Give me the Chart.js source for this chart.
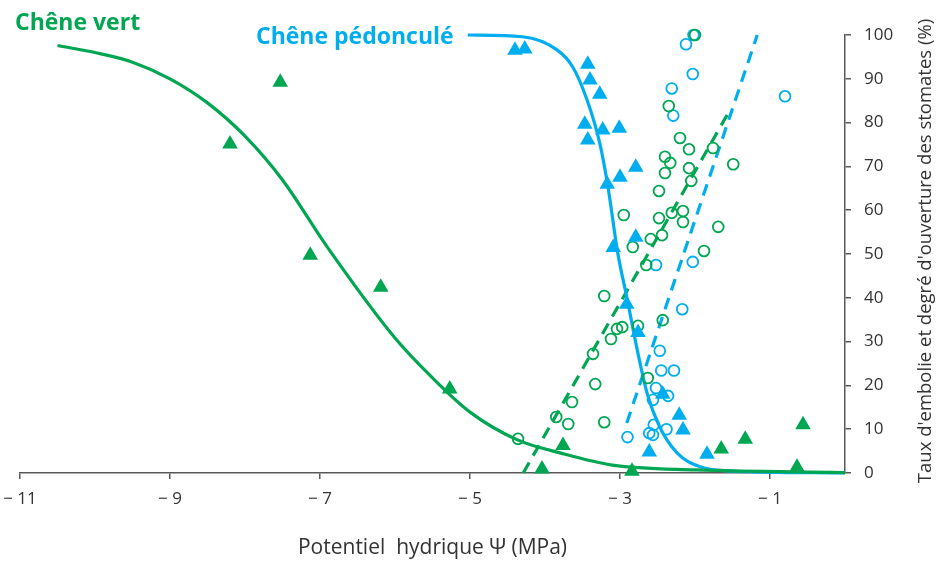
<!DOCTYPE html>
<html>
<head>
<meta charset="utf-8">
<script src="https://cdn.jsdelivr.net/npm/chart.js@4"></script>
<style>
  html, body { margin: 0; padding: 0; background: #fff; }
  #wrap { width: 936px; height: 562px; }
</style>
</head>
<body>
<div id="wrap"><canvas id="chart" width="936" height="562"></canvas></div>
<script>
// x ticks shown on the axis
const xTickValues = [-11, -9, -7, -5, -3, -1];

// fitted vulnerability curves
const vertCurveX = [-10.5, -10.0, -9.5, -9.0, -8.5, -8.0, -7.5, -6.9, -6.0, -5.5, -5.0, -4.36, -3.8, -3.1, -2.0, 0];
const vertCurveY = [97.6, 96.0, 93.8, 90.0, 84.5, 76.9, 66.9, 51.5, 30.8, 21.7, 13.9, 7.5, 4.6, 1.8, 0.7, 0.1];
const pedCurveX = [-5.03, -4.3, -3.84, -3.63, -3.44, -3.27, -3.16, -3.03, -2.91, -2.77, -2.64, -2.47, -2.24, -1.93, -1.57, 0];
const pedCurveY = [100, 99.6, 96.6, 92.7, 85.2, 75.3, 65.3, 50.2, 40.2, 28.1, 18.3, 10.5, 4.6, 1.4, 0.5, 0];

// dashed regression lines (stomatal opening)
const vertDashX = [-4.29, -1.52];
const vertDashY = [0, 83.3];
const pedDashX = [-2.91, -1.17];
const pedDashY = [11.4, 100];

// embolism measurements (triangles)
const vertEmbX = [-8.2, -7.53, -7.13, -6.19, -5.27, -4.04, -3.76, -2.84, -1.65, -1.33, -0.64, -0.56];
const vertEmbY = [75.1, 89.2, 49.7, 42.4, 19.2, 0.9, 6.3, 0.4, 5.5, 7.7, 1.3, 11.0];
const pedEmbX = [-4.4, -4.27, -3.43, -3.4, -3.27, -3.47, -3.23, -3.01, -3.43, -3.17, -3.0, -2.79, -2.79, -3.09, -2.91, -2.76, -2.61, -2.43, -2.21, -2.16, -1.84];
const pedEmbY = [96.5, 96.8, 93.3, 89.7, 86.5, 79.6, 78.3, 78.7, 76.0, 65.9, 67.5, 69.8, 53.8, 51.5, 38.5, 32.1, 4.8, 18.0, 13.2, 9.8, 4.3];

// stomatal opening measurements (open circles)
const vertStomX = [-4.36, -3.85, -3.69, -3.64, -3.33, -3.36, -3.21, -3.12, -3.04, -2.97, -3.21, -2.76, -2.63, -2.43, -2.65,
  -2.95, -2.48, -2.31, -2.16, -2.16, -1.69, -2.44, -2.59, -2.83, -1.88,
  -2.35, -2.2, -2.08, -1.76, -2.4, -2.33, -2.08, -1.49, -2.4, -2.05, -2.48, -2.0];
const vertStomY = [7.8, 12.8, 11.2, 16.2, 20.3, 27.2, 40.4, 30.6, 32.9, 33.3, 11.6, 33.6, 21.7, 34.9, 47.5,
  58.9, 58.2, 59.4, 59.8, 57.3, 56.2, 54.3, 53.4, 51.6, 50.7,
  83.8, 76.5, 73.9, 74.2, 72.2, 70.8, 69.6, 70.5, 68.5, 66.7, 64.4, 100];
const pedStomX = [-2.02, -2.12, -2.03, -2.31, -2.29, -0.8, -2.52, -2.03, -2.17, -2.47, -2.45, -2.28, -2.52, -2.36, -2.56, -2.55, -2.38, -2.61, -2.56, -2.9];
const pedStomY = [100, 97.9, 91.1, 87.8, 81.6, 86, 47.5, 48.2, 37.4, 27.9, 23.4, 23.4, 19.4, 17.6, 16.7, 11, 10, 9.1, 8.7, 8.2];

const green = '#00a651';
const blue = '#00aeef';
const axisColor = '#595959';
const textColor = '#333333';
const yTitle = "Taux d'embolie et degré d'ouverture des stomates (%)";

const pts = (xs, ys) => xs.map((x, i) => ({ x: x, y: ys[i] }));

function curve(xs, ys, color, order) {
  return {
    data: pts(xs, ys), showLine: true, borderColor: color, borderWidth: 3.2,
    pointRadius: 0, cubicInterpolationMode: 'monotone', clip: false, order: order
  };
}
function dashed(xs, ys, color, order) {
  return {
    data: pts(xs, ys), showLine: true, borderColor: color, borderWidth: 3.2,
    borderDash: [12, 8], pointRadius: 0, clip: false, order: order
  };
}
function triangles(xs, ys, color, order) {
  return {
    data: pts(xs, ys), pointStyle: 'triangle', pointRadius: 9, borderWidth: 0,
    backgroundColor: color, borderColor: color, clip: false, order: order
  };
}
function rings(xs, ys, color, order) {
  return {
    data: pts(xs, ys), pointStyle: 'circle', pointRadius: 5.4, borderWidth: 1.8,
    backgroundColor: 'rgba(0,0,0,0)', borderColor: color, clip: false, order: order
  };
}

const textPlugin = {
  id: 'textPlugin',
  afterDraw(chart) {
    const ctx = chart.ctx;
    const area = chart.chartArea;
    ctx.save();
    ctx.font = 'bold 23px "Open Sans"';
    ctx.textBaseline = 'alphabetic';
    ctx.fillStyle = green;
    ctx.fillText('Chêne vert', 15, 30);
    ctx.fillStyle = blue;
    ctx.fillText('Chêne pédonculé', 256, 44);

    ctx.font = '18.5px "Open Sans"';
    ctx.fillStyle = textColor;
    ctx.translate(926, (area.top + area.bottom) / 2 - 3);
    ctx.rotate(-Math.PI / 2);
    ctx.textAlign = 'center';
    ctx.textBaseline = 'middle';
    ctx.fillText(yTitle, 0, 0);
    ctx.restore();
  }
};

new Chart(document.getElementById('chart'), {
  type: 'scatter',
  data: {
    datasets: [
      triangles(vertEmbX, vertEmbY, green, 1),
      triangles(pedEmbX, pedEmbY, blue, 2),
      rings(vertStomX, vertStomY, green, 3),
      rings(pedStomX, pedStomY, blue, 4),
      curve(vertCurveX, vertCurveY, green, 5),
      curve(pedCurveX, pedCurveY, blue, 6),
      dashed(vertDashX, vertDashY, green, 7),
      dashed(pedDashX, pedDashY, blue, 8)
    ]
  },
  options: {
    responsive: false,
    animation: false,
    layout: { padding: { left: 20, top: 35, right: 0, bottom: 0 } },
    plugins: { legend: { display: false }, tooltip: { enabled: false } },
    scales: {
      x: {
        type: 'linear', position: 'bottom', min: -11, max: 0,
        afterBuildTicks: (scale) => { scale.ticks = xTickValues.map(v => ({ value: v })); },
        afterFit: (scale) => { scale.height = 89; scale.paddingLeft = 0; scale.paddingRight = 0; },
        grid: { display: true, drawOnChartArea: false, drawTicks: true, tickLength: 6, color: axisColor, lineWidth: 1.5 },
        border: { display: true, color: axisColor, width: 1.5 },
        ticks: {
          color: textColor, font: { family: 'Open Sans', size: 17 }, padding: 10, maxRotation: 0,
          callback: (v) => '\u2212 ' + Math.abs(v)
        },
        title: {
          display: true, text: 'Potentiel  hydrique \u03A8 (MPa)', color: textColor,
          font: { family: 'Open Sans', size: 21 }, padding: { top: 0, bottom: 1 }
        }
      },
      y: {
        type: 'linear', position: 'right', min: 0, max: 100,
        afterFit: (scale) => { scale.width = 91; },
        grid: { display: true, drawOnChartArea: false, drawTicks: true, tickLength: 6, color: axisColor, lineWidth: 1.5 },
        border: { display: true, color: axisColor, width: 1.5 },
        ticks: { stepSize: 10, color: textColor, font: { family: 'Open Sans', size: 17 }, padding: 13 }
      }
    }
  },
  plugins: [textPlugin]
});
</script>
</body>
</html>
